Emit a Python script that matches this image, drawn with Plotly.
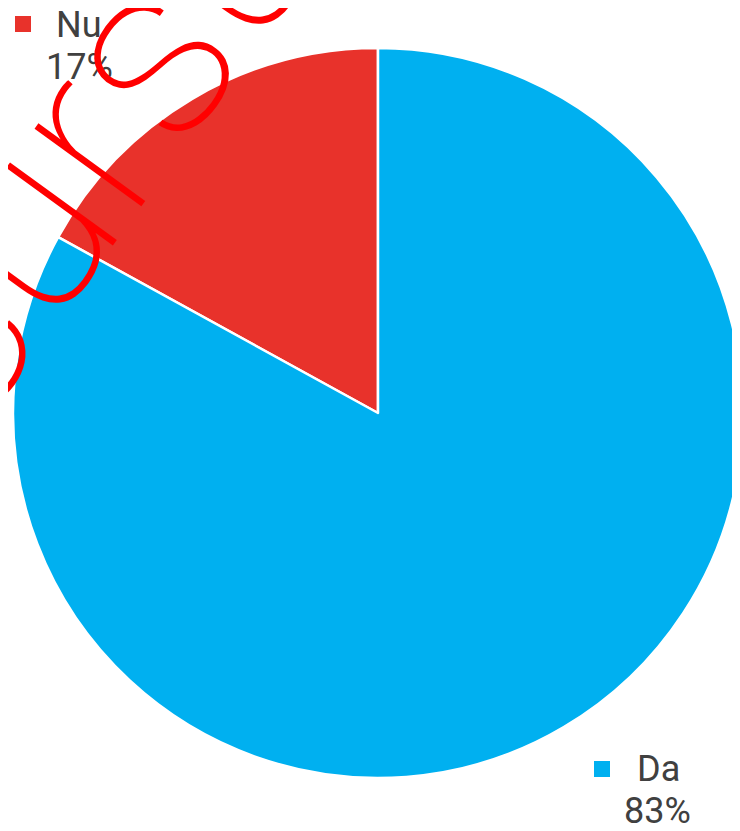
import plotly.graph_objects as go

# ---- data ----
labels = ["Nu", "Da"]
values = [17, 83]
colors = ["#E8322B", "#00B0F0"]
watermark_text = "cursuri"

W, H = 740, 831
OFF = 8          # page body margin offset
CX, CY, R = 378 - OFF, 413 - OFF, 365

def px(x):
    return x / W

def py(y):
    return 1 - y / H

total = sum(values)
pcts = [round(v * 100 / total) for v in values]

fig = go.Figure()
fig.add_trace(go.Pie(
    labels=labels,
    values=values,
    marker=dict(colors=colors, line=dict(color="white", width=2.5)),
    sort=False,
    direction="clockwise",
    rotation=-360.0 * values[0] / total,   # first slice ends at 12 o'clock
    textinfo="none",
    hoverinfo="label+percent",
    showlegend=False,
    domain=dict(x=[px(CX - R), px(CX + R)], y=[py(CY + R), py(CY - R)]),
))

# label placement (pixel positions of square, name, percentage) in page pixels
label_pos = {
    "Nu": dict(sq=(15, 16), name=(79, 25), pct=(79, 67)),
    "Da": dict(sq=(594, 761), name=(658, 769), pct=(657, 811)),
}
font = dict(family="Roboto, sans-serif", size=36, color="#404040")
shapes = []
annotations = []
for lab, pct, col in zip(labels, pcts, colors):
    p = label_pos[lab]
    sx, sy = p["sq"][0] - OFF, p["sq"][1] - OFF
    shapes.append(dict(type="rect", xref="paper", yref="paper",
                       x0=px(sx), x1=px(sx + 16), y0=py(sy + 16), y1=py(sy),
                       fillcolor=col, line=dict(width=0)))
    annotations.append(dict(text=lab, x=px(p["name"][0] - OFF), y=py(p["name"][1] - OFF),
                            xref="paper", yref="paper", showarrow=False,
                            xanchor="center", yanchor="middle", font=font))
    annotations.append(dict(text=f"{pct}%", x=px(p["pct"][0] - OFF), y=py(p["pct"][1] - OFF),
                            xref="paper", yref="paper", showarrow=False,
                            xanchor="center", yanchor="middle", font=font))

# red watermark
annotations.append(dict(text=watermark_text, x=px(115), y=py(77), xref="paper", yref="paper",
                        showarrow=False, xanchor="center", yanchor="middle", textangle=-54,
                        font=dict(family="Roboto", size=250, color="#FF0000", weight=100)))

fig.update_layout(
    width=W, height=H,
    margin=dict(l=0, r=0, t=0, b=0),
    paper_bgcolor="white",
    plot_bgcolor="white",
    shapes=shapes,
    annotations=annotations,
)
fig.write_html("out.html")
